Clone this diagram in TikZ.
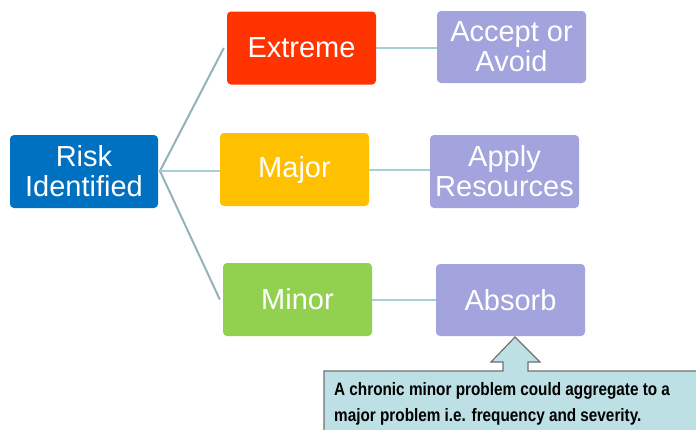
\documentclass[tikz,border=0pt]{standalone}
\usepackage{fontspec}
\setmainfont{Liberation Sans}
\begin{document}
\begin{tikzpicture}[x=1pt,y=-1pt,
  box/.style={rounded corners=4pt,minimum width=149pt,minimum height=73pt,inner sep=0pt,
    text=white,font=\fontsize{29}{30}\selectfont,align=center},
  branch/.style={line width=2pt,draw=branchgray},
  link/.style={line width=2pt,draw=linkblue}]
\definecolor{riskblue}{HTML}{0070C0}
\definecolor{xred}{HTML}{FF3300}
\definecolor{majyel}{HTML}{FFC000}
\definecolor{mingreen}{HTML}{92D050}
\definecolor{lav}{HTML}{A3A3DD}
\definecolor{branchgray}{HTML}{93B3B8}
\definecolor{linkblue}{HTML}{A6CFD6}
\definecolor{callfill}{HTML}{BDE0E4}
\definecolor{callline}{HTML}{707070}
\useasboundingbox (0,0) rectangle (696,429);
\clip (0,0) rectangle (696,429);
\node[box,fill=riskblue,minimum width=148pt] (risk) at (84,171.5) {Risk\\Identified};
\node[box,fill=xred] (ext) at (301.5,48) {Extreme};
\node[box,fill=majyel] (maj) at (294.5,169.5) {Major};
\node[box,fill=mingreen] (min) at (297.5,299.5) {Minor};
\node[box,fill=lav,minimum height=72pt] (acc) at (511.5,47) {Accept or\\Avoid};
\node[box,fill=lav] (app) at (504.5,171.5) {Apply\\Resources};
\node[box,fill=lav,minimum height=72pt] (abs) at (510.5,300) {Absorb};
\coordinate (hub) at (160,171);
\draw[branch] ([xshift=-3pt]ext.west) -- (hub) -- ([xshift=-3pt]min.west);
\draw[link] (hub) -- (hub -| maj.west);
\draw[link] (ext.east) -- (ext.east -| acc.west);
\draw[link] (maj.east) -- (maj.east -| app.west);
\draw[link] (min.east) -- (min.east -| abs.west);
\draw[fill=callfill,draw=callline,line width=1.2pt]
  (324,371) -- (503,371) -- (503,362) -- (491,362) -- (515,337) -- (540,362) -- (528,362)
  -- (528,371) -- (700,371) -- (700,440) -- (324,440) -- cycle;
\node[anchor=base west,inner sep=0pt,align=left,font=\bfseries\fontsize{18}{26.7}\selectfont] (note) at (334,421.7)
  {\scalebox{0.85}[1]{A chronic minor problem could aggregate to a}\\
   \scalebox{0.85}[1]{major problem i.e. frequency and severity.}};
\end{tikzpicture}
\end{document}
